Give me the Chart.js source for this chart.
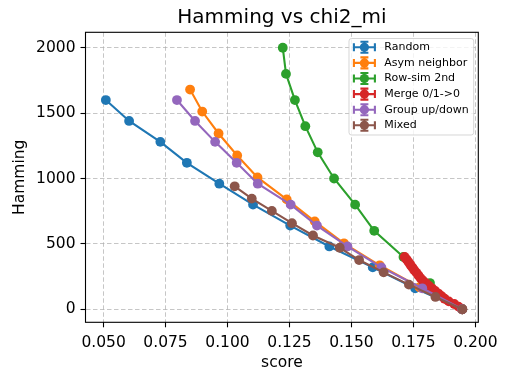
<!DOCTYPE html>
<html>
<head>
<meta charset="utf-8">
<script src="https://cdn.jsdelivr.net/npm/chart.js@4.4.1/dist/chart.umd.min.js"></script>
<style>
  html, body { margin: 0; padding: 0; background: #ffffff; }
  #wrap { width: 509px; height: 383px; position: relative; }
</style>
</head>
<body>
<div id="wrap"><canvas id="c" width="509" height="383"></canvas></div>
<script>
// ---- data ----
const seriesNames = ["Random", "Asym neighbor", "Row-sim 2nd", "Merge 0/1->0", "Group up/down", "Mixed"];
const seriesColors = ["#1f77b4", "#ff7f0e", "#2ca02c", "#d62728", "#9467bd", "#8c564b"];

const randomScore = [0.0509, 0.0603, 0.0729, 0.0836, 0.0967, 0.1103, 0.1253, 0.1411, 0.1586, 0.1757, 0.1947];
const randomHam   = [1600, 1440, 1280, 1120, 960, 800, 640, 480, 320, 160, 0];

const asymScore = [0.0849, 0.0898, 0.0964, 0.1039, 0.1121, 0.1239, 0.1352, 0.1470, 0.1614, 0.1775, 0.1947];
const asymHam   = [1680, 1512, 1344, 1176, 1008, 840, 672, 504, 336, 168, 0];

const rowSimScore = [0.1223, 0.1236, 0.1272, 0.1314, 0.1364, 0.1430, 0.1515, 0.1592, 0.1710, 0.1817, 0.1947];
const rowSimHam   = [2000, 1800, 1600, 1400, 1200, 1000, 800, 600, 400, 200, 0];

const mergeScore = [0.1715, 0.1723, 0.1731, 0.1738, 0.1746, 0.1753, 0.1762, 0.1770, 0.1778, 0.1788, 0.1800,
                    0.1812, 0.1825, 0.1838, 0.1851, 0.1864, 0.1876, 0.1893, 0.1915, 0.1932, 0.1947];
const mergeHam   = [400, 380, 360, 340, 320, 300, 280, 260, 240, 220, 200,
                    180, 160, 140, 120, 100, 80, 60, 40, 20, 0];

const groupScore = [0.0796, 0.0869, 0.0950, 0.1037, 0.1122, 0.1255, 0.1361, 0.1484, 0.1621, 0.1786, 0.1947];
const groupHam   = [1600, 1440, 1280, 1120, 960, 800, 640, 480, 320, 160, 0];

const mixedScore = [0.1029, 0.1098, 0.1179, 0.1260, 0.1345, 0.1453, 0.1531, 0.1630, 0.1732, 0.1839, 0.1948];
const mixedHam   = [940, 846, 752, 658, 564, 470, 376, 282, 188, 94, 0];

const xTicks = [0.050, 0.075, 0.100, 0.125, 0.150, 0.175, 0.200];
const xTickLabels = ["0.050", "0.075", "0.100", "0.125", "0.150", "0.175", "0.200"];
const yTicks = [0, 500, 1000, 1500, 2000];
const yTickLabels = ["0", "500", "1000", "1500", "2000"];

const titleText = "Hamming vs chi2_mi";
const xTitle = "score";
const yTitle = "Hamming";

// ---- build datasets ----
const xs = [randomScore, asymScore, rowSimScore, mergeScore, groupScore, mixedScore];
const ys = [randomHam, asymHam, rowSimHam, mergeHam, groupHam, mixedHam];
const datasets = seriesNames.map((name, i) => ({
  label: name,
  data: xs[i].map((x, k) => ({x: x, y: ys[i][k]})),
  showLine: true,
  borderColor: seriesColors[i],
  backgroundColor: seriesColors[i],
  borderWidth: 2.1,
  pointRadius: 4.9,
  pointHoverRadius: 4.9,
  pointBorderWidth: 0,
  pointBackgroundColor: seriesColors[i],
  tension: 0,
  order: seriesNames.length - i
}));

const FONT = "'DejaVu Sans', sans-serif";

// frame + legend drawn on top
const framePlugin = {
  id: 'frameLegend',
  afterDatasetsDraw(chart) {
    const ctx = chart.ctx;
    const a = chart.chartArea;
    ctx.save();
    ctx.strokeStyle = '#000';
    ctx.lineWidth = 1.1;
    ctx.strokeRect(a.left, a.top, a.right - a.left, a.bottom - a.top);

    // legend box (matplotlib style)
    const lx = 349, ly = 38.5, lw = 124.7, lh = 96.5, r = 2.5;
    ctx.beginPath();
    ctx.moveTo(lx + r, ly);
    ctx.lineTo(lx + lw - r, ly);
    ctx.quadraticCurveTo(lx + lw, ly, lx + lw, ly + r);
    ctx.lineTo(lx + lw, ly + lh - r);
    ctx.quadraticCurveTo(lx + lw, ly + lh, lx + lw - r, ly + lh);
    ctx.lineTo(lx + r, ly + lh);
    ctx.quadraticCurveTo(lx, ly + lh, lx, ly + lh - r);
    ctx.lineTo(lx, ly + r);
    ctx.quadraticCurveTo(lx, ly, lx + r, ly);
    ctx.closePath();
    ctx.fillStyle = 'rgba(255,255,255,0.8)';
    ctx.fill();
    ctx.strokeStyle = 'rgba(204,204,204,0.8)';
    ctx.lineWidth = 1;
    ctx.stroke();

    const hx0 = 353.4, hx1 = 375.4, hcx = 364.4;
    chart.data.datasets.forEach((ds, i) => {
      const cy = 47.3 + i * 15.6;
      ctx.strokeStyle = ds.borderColor;
      ctx.fillStyle = ds.borderColor;
      ctx.lineWidth = 2.1;
      ctx.beginPath();
      ctx.moveTo(hx0, cy); ctx.lineTo(hx1, cy);
      ctx.moveTo(hx0 + 0.5, cy - 4); ctx.lineTo(hx0 + 0.5, cy + 4);
      ctx.moveTo(hx1 - 0.5, cy - 4); ctx.lineTo(hx1 - 0.5, cy + 4);
      ctx.moveTo(hcx, cy - 5.5); ctx.lineTo(hcx, cy + 5.5);
      ctx.moveTo(hcx - 4, cy - 5.5); ctx.lineTo(hcx + 4, cy - 5.5);
      ctx.moveTo(hcx - 4, cy + 5.5); ctx.lineTo(hcx + 4, cy + 5.5);
      ctx.stroke();
      ctx.beginPath();
      ctx.arc(hcx, cy, 4.6, 0, Math.PI * 2);
      ctx.fill();
      ctx.fillStyle = '#000';
      ctx.font = "11px " + FONT;
      ctx.textBaseline = 'middle';
      ctx.textAlign = 'left';
      ctx.fillText(ds.label, 384.3, cy);
    });
    ctx.restore();
  }
};

new Chart(document.getElementById('c'), {
  type: 'scatter',
  data: { datasets: datasets },
  plugins: [framePlugin],
  options: {
    responsive: false,
    animation: false,
    events: [],
    layout: { padding: { left: 0, right: 30.7, top: 0, bottom: 0 } },
    plugins: {
      legend: { display: false },
      tooltip: { enabled: false },
      title: {
        display: true,
        fullSize: false,
        text: titleText,
        color: '#000',
        font: { family: FONT, size: 20, weight: 'normal', lineHeight: 1.2 },
        padding: { top: 6, bottom: 2.3 }
      }
    },
    scales: {
      x: {
        type: 'linear',
        min: 0.0427,
        max: 0.2012,
        afterBuildTicks: (s) => { s.ticks = xTicks.map(v => ({value: v})); },
        afterFit: (s) => { s.height = 60.7; },
        ticks: {
          color: '#000',
          font: { family: FONT, size: 15.5 },
          padding: 6,
          maxRotation: 0,
          autoSkip: false,
          callback: (v) => { const k = xTicks.findIndex(t => Math.abs(t - v) < 1e-9); return k >= 0 ? xTickLabels[k] : ''; }
        },
        grid: {
          color: 'rgba(176,176,176,0.8)',
          lineWidth: 0.9,
          drawTicks: true,
          tickLength: 5,
          tickColor: '#000',
          tickWidth: 1.1
        },
        border: { display: false, dash: [4.5, 2.5] },
        title: {
          display: true,
          text: xTitle,
          color: '#000',
          font: { family: FONT, size: 15.5, lineHeight: 1.2 },
          padding: { top: 0, bottom: 10.7 }
        }
      },
      y: {
        type: 'linear',
        min: -100,
        max: 2118,
        afterBuildTicks: (s) => { s.ticks = yTicks.map(v => ({value: v})); },
        afterFit: (s) => { s.width = 85.5; },
        ticks: {
          color: '#000',
          font: { family: FONT, size: 15.5 },
          padding: 5,
          autoSkip: false,
          callback: (v) => { const k = yTicks.indexOf(v); return k >= 0 ? yTickLabels[k] : ''; }
        },
        grid: {
          color: 'rgba(176,176,176,0.8)',
          lineWidth: 0.9,
          drawTicks: true,
          tickLength: 5,
          tickColor: '#000',
          tickWidth: 1.1
        },
        border: { display: false, dash: [4.5, 2.5] },
        title: {
          display: true,
          text: yTitle,
          color: '#000',
          font: { family: FONT, size: 15.5, lineHeight: 1.2 },
          padding: { top: 10.7, bottom: 0 }
        }
      }
    }
  }
});
</script>
</body>
</html>
